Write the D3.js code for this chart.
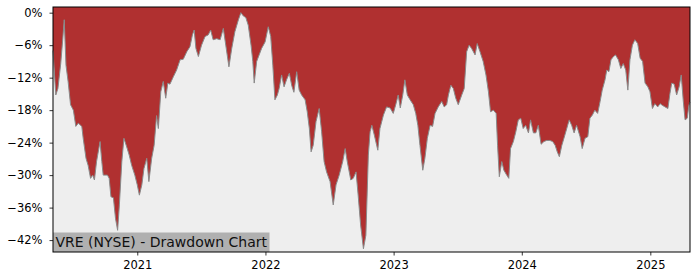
<!DOCTYPE html>
<html>
<head>
<meta charset="utf-8">
<script src="https://cdn.jsdelivr.net/npm/d3@7"></script>
<style>
  body { margin: 0; background: #fff; }
  svg { display: block; font-family: "DejaVu Sans", sans-serif; }
</style>
</head>
<body>
<svg id="chart"></svg>
<script>
// drawdown values (percent)
const dates = [
  "2020-05-06","2020-05-14","2020-05-20","2020-05-28","2020-06-03","2020-06-07","2020-06-12","2020-06-18",
  "2020-06-25","2020-07-03","2020-07-10","2020-07-17","2020-07-27","2020-07-31","2020-08-08","2020-08-14",
  "2020-08-21","2020-08-27","2020-09-01","2020-09-07","2020-09-17","2020-09-22","2020-09-26","2020-10-08",
  "2020-10-13","2020-10-18","2020-10-25","2020-10-31","2020-11-06","2020-11-11","2020-11-18","2020-11-24",
  "2020-12-02","2020-12-09","2020-12-16","2020-12-25","2021-01-01","2021-01-07","2021-01-14","2021-01-20",
  "2021-01-28","2021-02-03","2021-02-11","2021-02-18","2021-02-25","2021-03-02","2021-03-09","2021-03-16",
  "2021-03-23","2021-03-29","2021-04-04","2021-04-14","2021-04-23","2021-05-03","2021-05-12","2021-05-22",
  "2021-05-31","2021-06-07","2021-06-12","2021-06-17","2021-06-24","2021-07-03","2021-07-13","2021-07-22",
  "2021-07-29","2021-08-05","2021-08-15","2021-08-25","2021-09-03","2021-09-10","2021-09-19","2021-09-27",
  "2021-10-06","2021-10-16","2021-10-23","2021-10-30","2021-11-06","2021-11-13","2021-11-21","2021-11-26",
  "2021-11-30","2021-12-07","2021-12-14","2021-12-21","2021-12-31","2022-01-09","2022-01-16","2022-01-22",
  "2022-01-28","2022-02-04","2022-02-09","2022-02-16","2022-02-23","2022-03-02","2022-03-10","2022-03-17",
  "2022-03-23","2022-03-31","2022-04-07","2022-04-14","2022-04-24","2022-04-30","2022-05-06","2022-05-11",
  "2022-05-17","2022-05-25","2022-06-03","2022-06-10","2022-06-17","2022-06-24","2022-07-04","2022-07-13",
  "2022-07-21","2022-07-30","2022-08-09","2022-08-16","2022-08-22","2022-09-01","2022-09-08","2022-09-16",
  "2022-09-22","2022-09-29","2022-10-07","2022-10-14","2022-10-21","2022-10-26","2022-10-31","2022-11-07",
  "2022-11-17","2022-11-23","2022-12-03","2022-12-12","2022-12-22","2022-12-31","2023-01-07","2023-01-14",
  "2023-01-20","2023-01-27","2023-02-02","2023-02-09","2023-02-17","2023-02-26","2023-03-05","2023-03-11",
  "2023-03-17","2023-03-25","2023-03-31","2023-04-07","2023-04-15","2023-04-22","2023-04-29","2023-05-08",
  "2023-05-18","2023-05-25","2023-06-01","2023-06-06","2023-06-13","2023-06-20","2023-06-27","2023-07-04",
  "2023-07-14","2023-07-21","2023-07-28","2023-08-04","2023-08-11","2023-08-21","2023-08-27","2023-09-04",
  "2023-09-13","2023-09-21","2023-09-28","2023-10-04","2023-10-12","2023-10-20","2023-10-24","2023-10-29",
  "2023-11-05","2023-11-11","2023-11-19","2023-11-25","2023-11-30","2023-12-08","2023-12-15","2023-12-22",
  "2023-12-29","2024-01-05","2024-01-12","2024-01-20","2024-01-26","2024-02-03","2024-02-10","2024-02-17",
  "2024-02-25","2024-03-04","2024-03-12","2024-03-21","2024-03-29","2024-04-05","2024-04-11","2024-04-17",
  "2024-04-24","2024-04-30","2024-05-08","2024-05-15","2024-05-22","2024-05-29","2024-06-05","2024-06-15",
  "2024-06-21","2024-06-29","2024-07-07","2024-07-13","2024-07-20","2024-07-27","2024-08-04","2024-08-11",
  "2024-08-17","2024-08-25","2024-08-30","2024-09-05","2024-09-11","2024-09-18","2024-09-24","2024-10-02",
  "2024-10-09","2024-10-16","2024-10-23","2024-10-29","2024-11-04","2024-11-11","2024-11-18","2024-11-26",
  "2024-12-03","2024-12-10","2024-12-17","2024-12-25","2024-12-31","2025-01-07","2025-01-14","2025-01-22",
  "2025-01-29","2025-02-04","2025-02-12","2025-02-20","2025-02-26","2025-03-03","2025-03-10","2025-03-17",
  "2025-03-24","2025-03-30","2025-04-05","2025-04-10","2025-04-16","2025-04-21","2025-04-24"
];
const drawdown = [
  -7, -15.2, -14, -9.4, -4.7, -1.3, -9.7, -12.7,
  -17, -18, -21, -20.4, -21, -23.2, -26.9, -28.2,
  -30.6, -30, -30.9, -27.5, -23.8, -27.5, -30, -30,
  -30.6, -34, -34.2, -38, -40.2, -35.5, -27.5, -23.2,
  -24.8, -26.3, -28.2, -30, -31.8, -33.7, -31.8, -28.8,
  -26.9, -31.2, -26.9, -24.5, -19, -21.4, -14.6, -12.7,
  -15.8, -13, -13.2, -11.8, -10.6, -8.7, -8.6, -7.2,
  -6.3, -4.1, -3.2, -6.6, -8.1, -6, -4.4, -4.1,
  -3.2, -5, -4.8, -5, -2.9, -6, -10, -6.6,
  -3.5, -1.3, 0, -0.6, -0.9, -2.3, -6, -9,
  -13, -9, -7.8, -6.6, -5.4, -2.6, -4.4, -9.7,
  -16.1, -15.2, -14, -11.5, -13.7, -12.4, -11.2, -13.5,
  -14.7, -10.9, -14.3, -15.2, -16.1, -18.3, -21.4, -25.7,
  -24.5, -20.1, -17.7, -22, -27.5, -29.4, -31.2, -35.5,
  -31.8, -30, -27.5, -25.1, -27.5, -30.9, -30.6, -29.4,
  -33.7, -39.2, -43.6, -41.1, -26.3, -22, -20.8, -22.6,
  -25.4, -21.4, -18.9, -17.4, -17.6, -18.6, -17, -15.2,
  -17.6, -15.2, -12.4, -15.2, -16.1, -17, -18.6, -20.8,
  -24.5, -29.1, -26.9, -23.2, -20.8, -21, -18.6, -17.4,
  -16.4, -17.4, -17, -15.2, -13.4, -14, -15.8, -17,
  -15.2, -14, -7.2, -6, -6.6, -7.8, -5.7, -7.2,
  -9, -11.5, -14.6, -18.3, -18, -18.6, -24.5, -30.3,
  -27.5, -29.1, -30, -30.6, -25.1, -23.8, -22, -19.8,
  -19.5, -21.4, -20.8, -22.2, -19.8, -22.2, -22.2, -20.8,
  -24.3, -23.8, -23.6, -23.6, -23.8, -24.5, -25.7, -26.6,
  -24.5, -23.2, -21.4, -19.8, -20.8, -22.2, -20.8, -22.9,
  -25.1, -23.2, -22.9, -19.5, -18.9, -18, -18.6, -16.4,
  -14.3, -12.4, -10.6, -10.9, -8.7, -8.1, -7.8, -8.7,
  -10.3, -9.4, -10.6, -14.3, -8.7, -6, -5, -5.7,
  -8.4, -9, -13, -13.7, -14.6, -17.7, -16.8, -17.4,
  -16.8, -17.1, -17.4, -17.7, -14.9, -13, -13.2, -15.2,
  -13.7, -11.5, -16.4, -19.8, -19.5, -17.1, -16.5
];
const yTicks = [0, -6, -12, -18, -24, -30, -36, -42];
const xTicks = ["2021-01-01", "2022-01-01", "2023-01-01", "2024-01-01", "2025-01-01"];
const title = "VRE (NYSE) - Drawdown Chart";

const W = 700, H = 280;
const margin = { top: 7, right: 10, bottom: 28, left: 53 };
const width = W - margin.left - margin.right;
const height = H - margin.top - margin.bottom;

const parse = d3.timeParse("%Y-%m-%d");
const data = dates.map((d, i) => ({ date: parse(d), v: drawdown[i] }));

const svg = d3.select("#chart").attr("width", W).attr("height", H);
const g = svg.append("g").attr("transform", `translate(${margin.left},${margin.top})`);

const x = d3.scaleTime()
  .domain(d3.extent(data, d => d.date))
  .range([0, width]);
const y = d3.scaleLinear()
  .domain([-44.2, 1.05])
  .range([height, 0]);

// red background (drawdown region), grey below the curve
g.append("rect").attr("width", width).attr("height", height).attr("fill", "#b03030");

g.append("path")
  .datum(data)
  .attr("fill", "#eeeeee")
  .attr("d", d3.area().x(d => x(d.date)).y0(height).y1(d => y(d.v)));

g.append("path")
  .datum(data)
  .attr("fill", "none")
  .attr("stroke", "#8a8a8a")
  .attr("stroke-width", 1)
  .attr("d", d3.line().x(d => x(d.date)).y(d => y(d.v)));

// axes
const fmt = v => (v < 0 ? "\u2212" + Math.abs(v) : v) + "%";
const yAxis = g.append("g")
  .call(d3.axisLeft(y).tickValues(yTicks).tickFormat(fmt).tickSize(3.5).tickPadding(7));
const xAxis = g.append("g")
  .attr("transform", `translate(0,${height})`)
  .call(d3.axisBottom(x).tickValues(xTicks.map(parse)).tickFormat(d3.timeFormat("%Y")).tickSize(3.5).tickPadding(5));

[yAxis, xAxis].forEach(a => {
  a.select(".domain").remove();
  a.selectAll("line").attr("stroke", "#000").attr("stroke-width", 0.8);
  a.selectAll("text").attr("fill", "#000").style("font-size", "11.5px").style("font-family", "DejaVu Sans");
});

// label box
const label = g.append("g");
const txt = label.append("text")
  .attr("x", 2.5)
  .attr("y", height - 5.3)
  .attr("fill", "#111")
  .style("font-size", "14px")
  .text(title);
const tw = txt.node().getComputedTextLength();
label.insert("rect", "text")
  .attr("x", 0)
  .attr("y", height - 19.5)
  .attr("width", tw + 5)
  .attr("height", 19.5)
  .attr("fill", "#b0b0b0");

// frame
g.append("rect")
  .attr("width", width).attr("height", height)
  .attr("fill", "none").attr("stroke", "#000").attr("stroke-width", 1);
</script>
</body>
</html>
